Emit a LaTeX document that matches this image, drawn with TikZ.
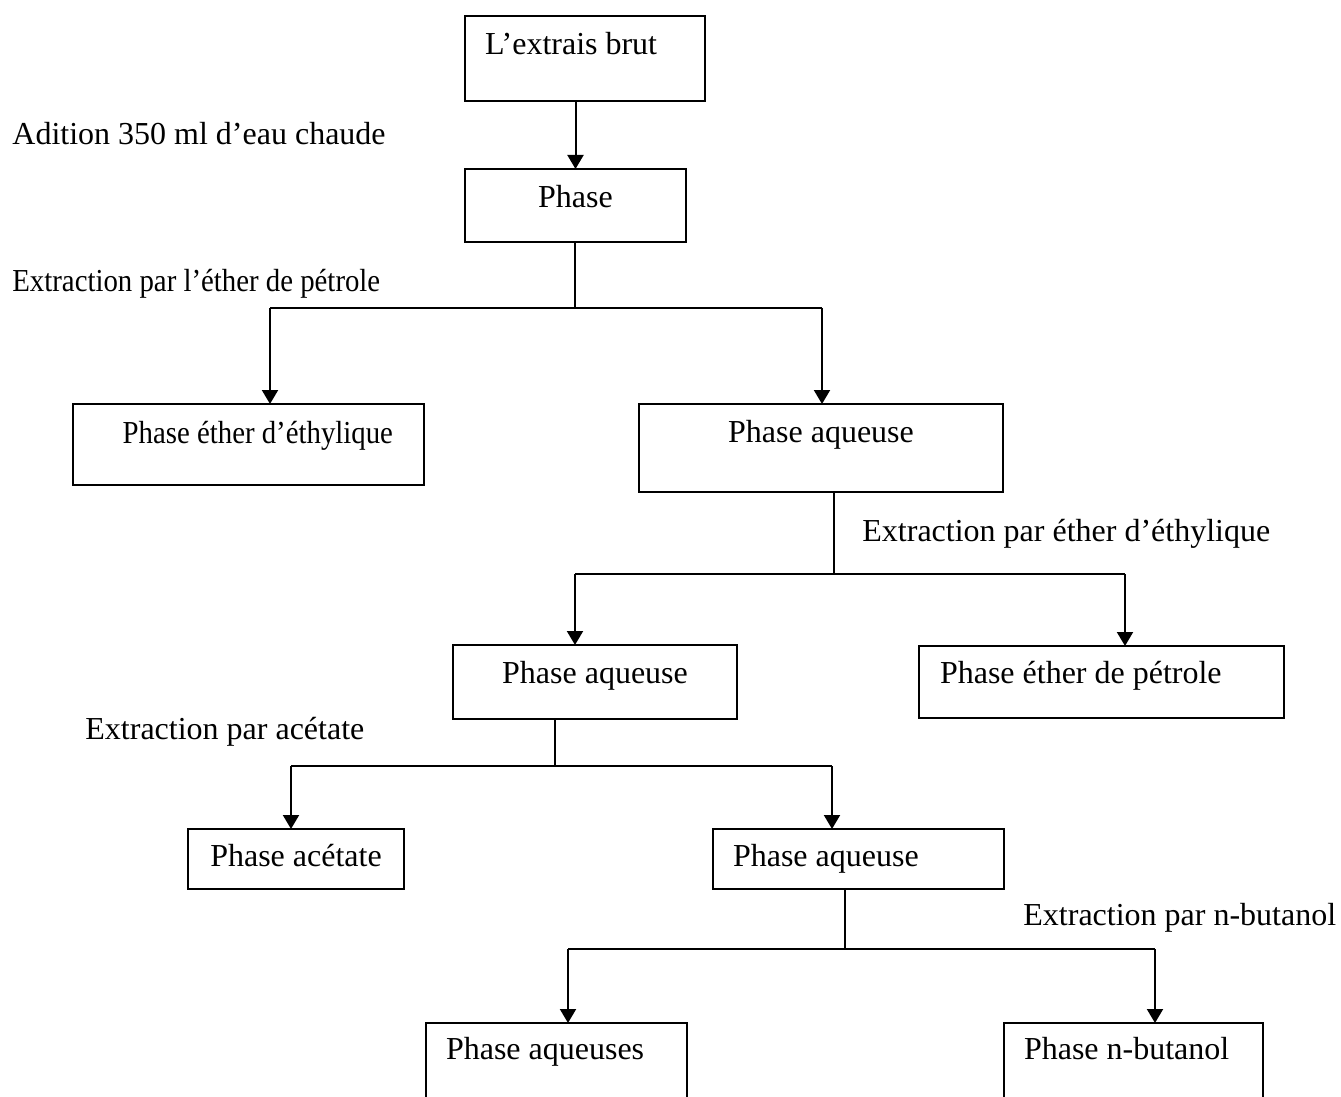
\documentclass[tikz,border=0pt]{standalone}
\usepackage{fontspec}
\setmainfont{Liberation Serif}
\newfontfamily\narrowfont{Liberation Serif}[FakeStretch=0.9]
\usetikzlibrary{arrows.meta}
\tikzset{
  font=\fontsize{16pt}{19pt}\selectfont,
  box/.style={
    draw,
    line width=1pt,
    anchor=north west,
    inner ysep=0pt,
    outer sep=0pt
  },
  note/.style={
    anchor=base west,
    inner sep=0pt
  },
  narrow/.style={font=\fontsize{16pt}{19pt}\narrowfont},
  stem/.style={line width=0.7pt},
  branch/.style={line width=1pt},
  arrow/.style={-{Triangle[width=8pt,length=7pt]}, line width=1pt}
}

\begin{document}
\begin{tikzpicture}[x=0.5pt, y=-0.5pt]
\useasboundingbox (0,0) rectangle (1341,1097);
\clip (0,0) rectangle (1341,1097);

% Boxes
\node[box, align=flush left, text width=100pt, inner xsep=10pt, text height=19.5pt, text depth=23pt] (extrait) at (465,16) {L’extrais brut};
\node[box, align=flush center, text width=100.5pt, inner xsep=5pt, text height=19.5pt, text depth=17pt] (phase) at (465,169) {Phase};
\node[box, narrow, align=flush right, text width=144.5pt, inner xsep=15.5pt, text height=20pt, text depth=20.5pt] (ether) at (73,404) {Phase éther d’éthylique};
\node[box, align=flush center, text width=172pt, inner xsep=5pt, text height=19.5pt, text depth=24.5pt] (aq1) at (639,404) {Phase aqueuse};
\node[box, align=flush center, text width=132pt, inner xsep=5pt, text height=19pt, text depth=18pt] (aq2) at (453,645) {Phase aqueuse};
\node[box, align=flush left, text width=161.5pt, inner xsep=10.5pt, text height=18.5pt, text depth=17.5pt] (petrole) at (919,646) {Phase éther de pétrole};
\node[box, align=flush center, text width=98pt, inner xsep=5pt, text height=18.5pt, text depth=11.5pt] (acetate) at (188,829) {Phase acétate};
\node[box, align=flush left, text width=125.5pt, inner xsep=10pt, text height=18.5pt, text depth=11.5pt] (aq3) at (713,829) {Phase aqueuse};
\node[box, align=flush left, text width=110.5pt, inner xsep=10pt, text height=18pt, text depth=50pt] (aqs) at (426,1023) {Phase aqueuses};
\node[box, align=flush left, text width=109.5pt, inner xsep=10pt, text height=18pt, text depth=50pt] (butanol) at (1004,1023) {Phase n-butanol};

% Step notes
\node[note] (eau) at (12,145) {Adition 350 ml d’eau chaude};
\node[note, narrow] (ext1) at (12,292) {Extraction par l’éther de pétrole};
\node[note] (ext2) at (862,541) {Extraction par éther d’éthylique};
\node[note] (ext3) at (85,739) {Extraction par acétate};
\node[note] (ext4) at (1023,925) {Extraction par n-butanol};

% Branch points
\coordinate (s1) at (575,308);
\coordinate (l1) at (270,308);
\coordinate (r1) at (822,308);
\coordinate (s2) at (834,574);
\coordinate (l2) at (575,574);
\coordinate (r2) at (1125,574);
\coordinate (s3) at (555,766);
\coordinate (l3) at (291,766);
\coordinate (r3) at (832,766);
\coordinate (s4) at (845,949);
\coordinate (l4) at (568,949);
\coordinate (r4) at (1155,949);

\draw[arrow] (phase.north |- extrait.south) -- (phase.north);

\draw[stem] (s1 |- phase.south) -- (s1);
\draw[branch] (l1) -- (r1);
\draw[arrow] (l1) -- (l1 |- ether.north);
\draw[arrow] (r1) -- (r1 |- aq1.north);

\draw[stem] (s2 |- aq1.south) -- (s2);
\draw[branch] (l2) -- (r2);
\draw[arrow] (l2) -- (l2 |- aq2.north);
\draw[arrow] (r2) -- (r2 |- petrole.north);

\draw[stem] (s3 |- aq2.south) -- (s3);
\draw[branch] (l3) -- (r3);
\draw[arrow] (l3) -- (l3 |- acetate.north);
\draw[arrow] (r3) -- (r3 |- aq3.north);

\draw[stem] (s4 |- aq3.south) -- (s4);
\draw[branch] (l4) -- (r4);
\draw[arrow] (l4) -- (l4 |- aqs.north);
\draw[arrow] (r4) -- (r4 |- butanol.north);

\end{tikzpicture}
\end{document}
